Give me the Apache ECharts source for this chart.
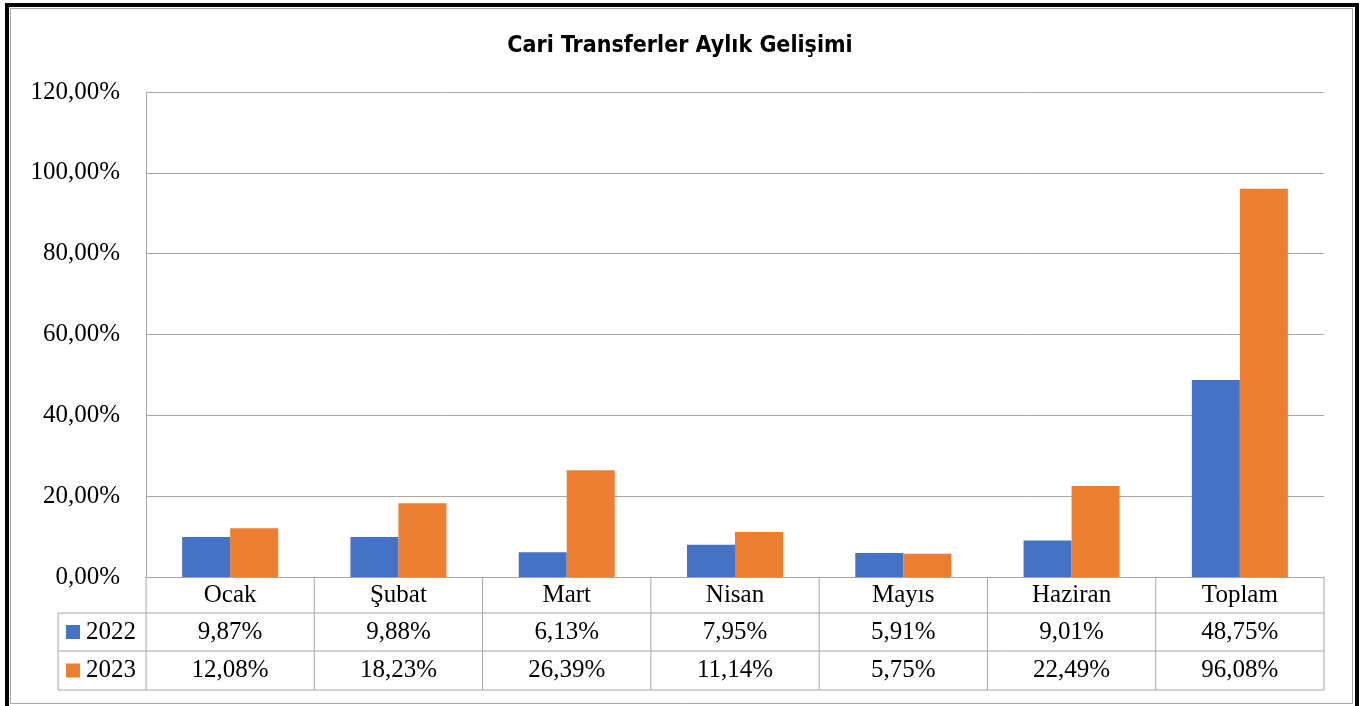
<!DOCTYPE html>
<html>
<head>
<meta charset="utf-8">
<script src="https://cdn.jsdelivr.net/npm/echarts@6/dist/echarts.min.js"></script>
<style>
  html, body { margin:0; padding:0; background:#fff; }
  #main { width:1360px; height:706px; }
</style>
</head>
<body>
<div id="main"></div>
<script>
  var categories = ['Ocak', 'Şubat', 'Mart', 'Nisan', 'Mayıs', 'Haziran', 'Toplam'];
  var seriesNames = ['2022', '2023'];
  var values2022 = [9.87, 9.88, 6.13, 7.95, 5.91, 9.01, 48.75];
  var values2023 = [12.08, 18.23, 26.39, 11.14, 5.75, 22.49, 96.08];
  var colors = ['#4472C4', '#ED7D31'];

  var serif = '"Liberation Serif", "Times New Roman", serif';
  var lineColor = '#a6a6a6';

  function pct(v) {
    return v.toFixed(2).replace('.', ',') + '%';
  }

  var myChart = echarts.init(document.getElementById('main'));
  var option = {
    animation: false,
    backgroundColor: '#fff',
    title: {
      text: 'Cari Transferler Aylık Gelişimi',
      left: 'center',
      top: 30,
      textStyle: {
        fontFamily: '"Liberation Sans Narrow", "DejaVu Sans Condensed", sans-serif',
        fontWeight: 'bold',
        fontSize: 23,
        color: '#000'
      }
    },
    grid: {
      left: 146,
      right: 36,
      top: 92,
      bottom: 129,
      outerBoundsMode: 'none'
    },
    xAxis: {
      type: 'category',
      data: categories,
      axisLine: { show: true, lineStyle: { color: lineColor, width: 1 } },
      axisTick: { show: false },
      axisLabel: {
        color: '#000',
        fontFamily: serif,
        fontSize: 25,
        lineHeight: 25,
        margin: 6,
        interval: 0
      }
    },
    yAxis: {
      type: 'value',
      min: 0,
      max: 120,
      interval: 20,
      axisLine: { show: true, lineStyle: { color: lineColor, width: 1 } },
      axisTick: { show: false },
      splitLine: { lineStyle: { color: lineColor, width: 1 } },
      axisLabel: {
        color: '#000',
        fontFamily: serif,
        fontSize: 25,
        margin: 26,
        formatter: function (v) { return pct(v); }
      }
    },
    series: [
      {
        name: seriesNames[0],
        type: 'bar',
        data: values2022,
        barWidth: 48,
        barGap: '0%',
        itemStyle: { color: colors[0] }
      },
      {
        name: seriesNames[1],
        type: 'bar',
        data: values2023,
        barWidth: 48,
        barGap: '0%',
        itemStyle: { color: colors[1] }
      }
    ]
  };
  myChart.setOption(option);

  // data table under the axis, columns taken from the category scale
  var x0 = myChart.convertToPixel({ xAxisIndex: 0 }, 0);
  var x1 = myChart.convertToPixel({ xAxisIndex: 0 }, 1);
  var colW = x1 - x0;
  var yBase = myChart.convertToPixel({ yAxisIndex: 0 }, 0);
  var plotLeft = x0 - colW / 2;
  var plotRight = plotLeft + colW * categories.length;
  var legendLeft = 58;
  var rowTops = [yBase, yBase + 36, yBase + 74, yBase + 113];
  var rows = [values2022, values2023];

  var g = [];
  function hline(y, xa, xb) {
    g.push({ type: 'line', shape: { x1: xa, y1: y, x2: xb, y2: y }, style: { stroke: lineColor, lineWidth: 1 } });
  }
  function vline(x, ya, yb) {
    g.push({ type: 'line', shape: { x1: x, y1: ya, x2: x, y2: yb }, style: { stroke: lineColor, lineWidth: 1 } });
  }
  hline(rowTops[1], legendLeft, plotRight);
  hline(rowTops[2], legendLeft, plotRight);
  hline(rowTops[3], legendLeft, plotRight);
  vline(legendLeft, rowTops[1], rowTops[3]);
  for (var i = 0; i <= categories.length; i++) {
    vline(plotLeft + i * colW, rowTops[0], rowTops[3]);
  }
  for (var r = 0; r < rows.length; r++) {
    var cy = (rowTops[r + 1] + rowTops[r + 2]) / 2;
    g.push({ type: 'rect', shape: { x: 66, y: cy - 7, width: 14, height: 14 }, style: { fill: colors[r] } });
    g.push({
      type: 'text', x: 86, y: cy,
      style: { text: seriesNames[r], font: '25px ' + serif, fill: '#000', textVerticalAlign: 'middle', textAlign: 'left' }
    });
    for (var c = 0; c < categories.length; c++) {
      g.push({
        type: 'text',
        x: myChart.convertToPixel({ xAxisIndex: 0 }, c),
        y: cy,
        style: { text: pct(rows[r][c]), font: '25px ' + serif, fill: '#000', textAlign: 'center', textVerticalAlign: 'middle' }
      });
    }
  }
  // outer frame
  g.push({ type: 'rect', shape: { x: 7, y: 5, width: 1350, height: 703 }, style: { fill: null, stroke: '#000', lineWidth: 4 } });
  g.push({ type: 'rect', shape: { x: 10.5, y: 8.5, width: 1342, height: 695 }, style: { fill: null, stroke: '#a6a6a6', lineWidth: 1 } });

  myChart.setOption({ graphic: g });
</script>
</body>
</html>
